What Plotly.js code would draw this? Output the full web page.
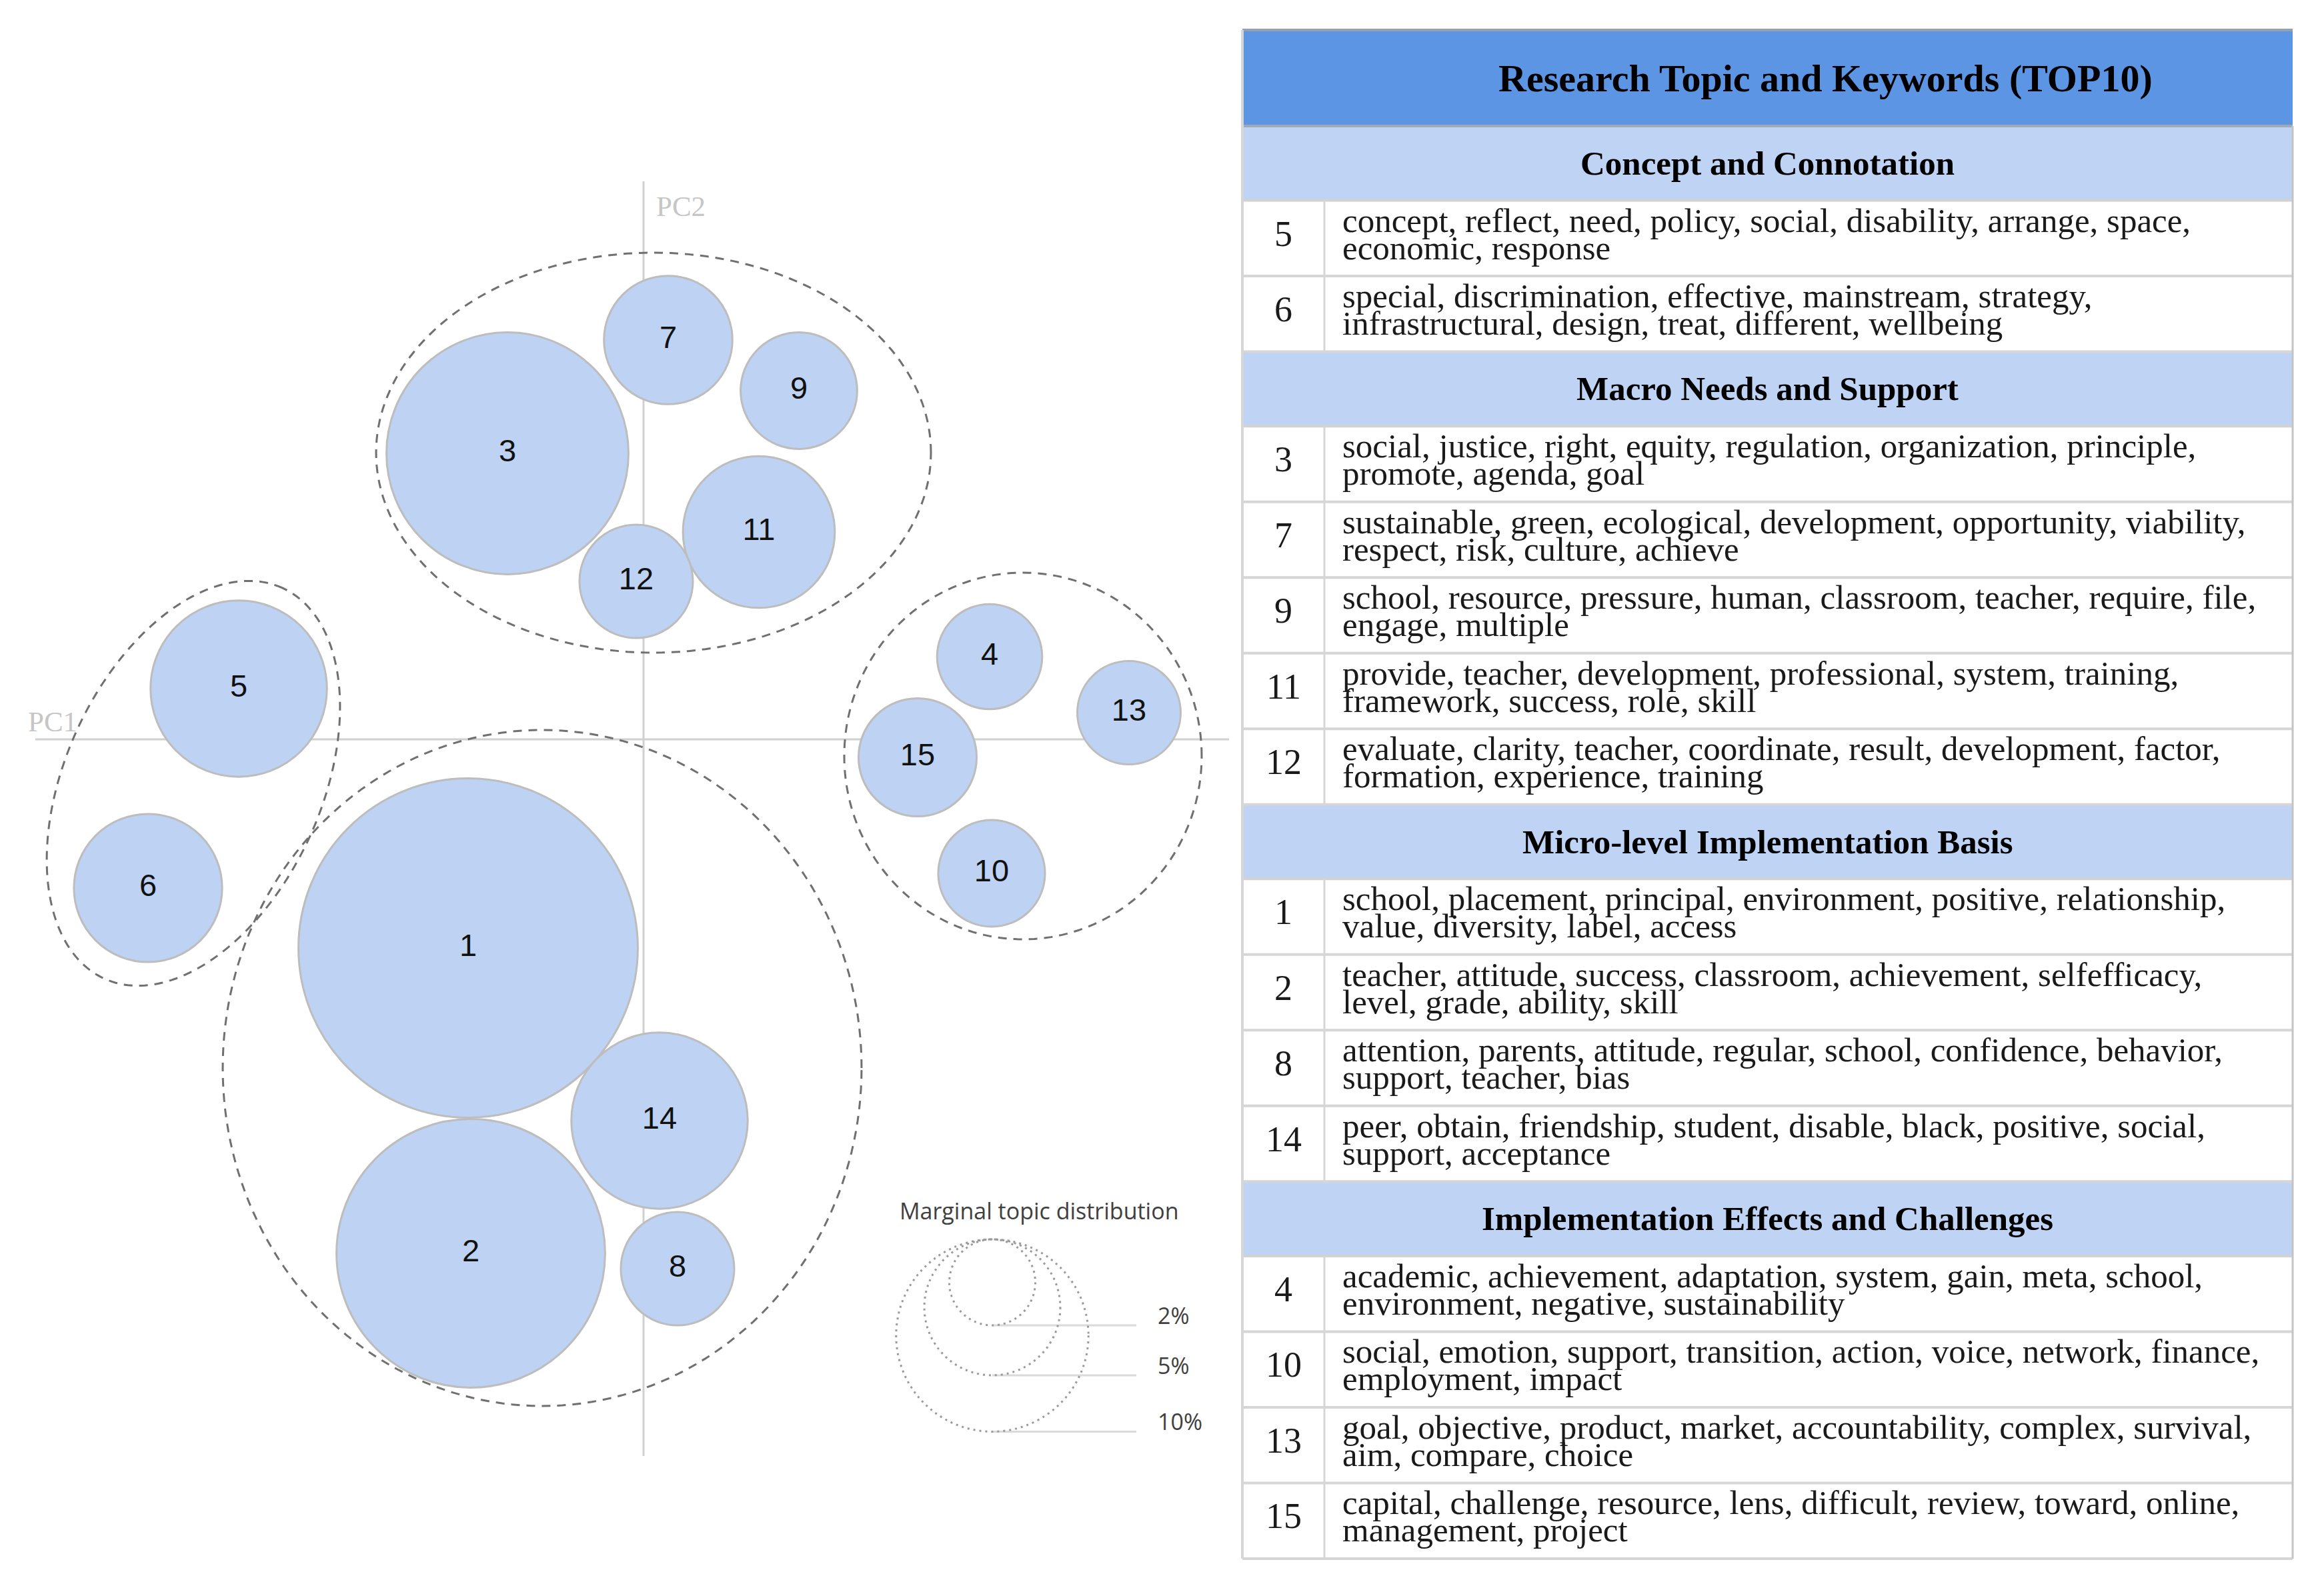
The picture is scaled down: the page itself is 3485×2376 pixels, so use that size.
<!DOCTYPE html>
<html>
<head>
<meta charset="utf-8">
<script src="https://cdn.plot.ly/plotly-3.0.1.min.js"></script>
<style>
  html, body { margin: 0; padding: 0; background: #fff; }
  #chart { width: 3485px; height: 2376px; }
</style>
</head>
<body>
<div id="chart"></div>
<script>
// ---- topic positions on the two principal components and their share (%) ----
var topicIds   = [1, 2, 3, 4, 5, 6, 7, 8, 9, 10, 11, 12, 13, 14, 15];
var pc1        = [-2.63, -2.59, -2.04, 5.19, -6.07, -7.43, 0.37, 0.51, 2.33, 5.22, 1.73, -0.11, 7.28, 0.24, 4.11];
var pc2        = [-3.13, -7.71, 4.29, 1.24, 0.76, -2.23, 5.99, -7.94, 5.23, -2.01, 3.11, 2.37, 0.40, -5.72, -0.27];
var topicShare = [31.5, 19.8, 16.1, 3.1, 8.6, 6.1, 4.6, 3.6, 3.8, 3.2, 6.4, 3.6, 3.0, 8.6, 3.9];

// size legend
var legendShares = [2, 5, 10];
var legendLabels = ['2%', '5%', '10%'];

// topic clusters (dashed ellipses): centre, semi-axes, rotation in degrees
var clusterCx    = [0.15, -1.52, 5.69, -6.75];
var clusterCy    = [4.30, -4.93, -0.25, -0.66];
var clusterA     = [4.16, 4.79, 2.68, 3.22];
var clusterB     = [3.00, 5.07, 2.75, 1.92];
var clusterAngle = [0, 0, 0, 65.5];

// table
var tableTitle    = 'Research Topic and Keywords (TOP10)';
var sectionNames  = ['Concept and Connotation', 'Macro Needs and Support',
                     'Micro-level Implementation Basis', 'Implementation Effects and Challenges'];
var sectionTopics = [[5, 6], [3, 7, 9, 11, 12], [1, 2, 8, 14], [4, 10, 13, 15]];
var keywords = [
  'school, placement, principal, environment, positive, relationship,\nvalue, diversity, label, access',
  'teacher, attitude, success, classroom, achievement, selfefficacy,\nlevel, grade, ability, skill',
  'social, justice, right, equity, regulation, organization, principle,\npromote, agenda, goal',
  'academic, achievement, adaptation, system, gain, meta, school,\nenvironment, negative, sustainability',
  'concept, reflect, need, policy, social, disability, arrange, space,\neconomic, response',
  'special, discrimination, effective, mainstream, strategy,\ninfrastructural, design, treat, different, wellbeing',
  'sustainable, green, ecological, development, opportunity, viability,\nrespect, risk, culture, achieve',
  'attention, parents, attitude, regular, school, confidence, behavior,\nsupport, teacher, bias',
  'school, resource, pressure, human, classroom, teacher, require, file,\nengage, multiple',
  'social, emotion, support, transition, action, voice, network, finance,\nemployment, impact',
  'provide, teacher, development, professional, system, training,\nframework, success, role, skill',
  'evaluate, clarity, teacher, coordinate, result, development, factor,\nformation, experience, training',
  'goal, objective, product, market, accountability, complex, survival,\naim, compare, choice',
  'peer, obtain, friendship, student, disable, black, positive, social,\nsupport, acceptance',
  'capital, challenge, resource, lens, difficult, review, toward, online,\nmanagement, project'
];

// ---- page geometry ----
var W = 3485, H = 2376;
var PX_PER_UNIT = 100;          // one PC unit on screen
var R_PER_SQRT = 0.456;         // circle radius (units) per sqrt(%)
function px(x) { return x / W; }
function py(y) { return 1 - y / H; }

var serif = 'Liberation Serif, Times New Roman, serif';
var sans = 'Liberation Sans, Arial, sans-serif';
var ui = 'Open Sans, Noto Sans, sans-serif';

var shapes = [];
var annotations = [];

function note(o) {
  // fixed anchors, plotly's 'auto' anchoring moves paper texts around
  o.showarrow = false;
  if (!o.xanchor) o.xanchor = 'center';
  if (!o.yanchor) o.yanchor = 'middle';
  annotations.push(o);
}

// PC axes
shapes.push({type: 'line', xref: 'x', yref: 'y domain', x0: 0, x1: 0, y0: 0, y1: 1,
             line: {color: '#d0d0d0', width: 3}, layer: 'below'});
shapes.push({type: 'line', xref: 'x domain', yref: 'y', x0: 0, x1: 1, y0: 0, y1: 0,
             line: {color: '#d0d0d0', width: 3}, layer: 'below'});
note({xref: 'x', yref: 'y', x: -8.86, y: 0.27, text: 'PC1',
      font: {family: serif, size: 43, color: '#c6c6c6'}});
note({xref: 'x', yref: 'y', x: 0.56, y: 8.0, text: 'PC2',
      font: {family: serif, size: 43, color: '#c6c6c6'}});

// cluster ellipses
function ellipsePath(cx, cy, a, b, angDeg) {
  var t = angDeg * Math.PI / 180, parts = [];
  for (var i = 0; i <= 200; i++) {
    var u = 2 * Math.PI * i / 200;
    var x = cx + a * Math.cos(u) * Math.cos(t) - b * Math.sin(u) * Math.sin(t);
    var y = cy + a * Math.cos(u) * Math.sin(t) + b * Math.sin(u) * Math.cos(t);
    parts.push((i ? 'L' : 'M') + x.toFixed(4) + ',' + y.toFixed(4));
  }
  return parts.join(' ') + ' Z';
}
for (var c = 0; c < clusterCx.length; c++) {
  shapes.push({type: 'path', xref: 'x', yref: 'y',
               path: ellipsePath(clusterCx[c], clusterCy[c], clusterA[c], clusterB[c], clusterAngle[c]),
               line: {color: '#707070', width: 3, dash: '13px,10px'}});
}

// size legend
var legCx = 5.23, legTop = -7.50, legLineEnd = 7.39;
note({xref: 'x', yref: 'y', x: 5.93, y: -7.07, text: 'Marginal topic distribution',
      font: {family: ui, size: 34, color: '#404040'}});
legendShares.forEach(function (s, i) {
  var r = R_PER_SQRT * Math.sqrt(s);
  var bottom = legTop - 2 * r;
  shapes.push({type: 'line', xref: 'x', yref: 'y', x0: legCx, x1: legLineEnd, y0: bottom, y1: bottom,
               line: {color: '#dadada', width: 3}});
  shapes.push({type: 'circle', xref: 'x', yref: 'y', x0: legCx - r, x1: legCx + r, y0: bottom, y1: legTop,
               line: {color: '#9a9a9a', width: 3, dash: '3px,6px'}});
  note({xref: 'x', yref: 'y', x: 7.69, y: bottom + 0.15, xanchor: 'left', text: legendLabels[i],
        font: {family: ui, size: 34, color: '#404040'}});
});

// topic bubbles
var topicTrace = {
  type: 'scatter', mode: 'markers+text', x: pc1, y: pc2,
  text: topicIds.map(String), textposition: 'middle center',
  textfont: {family: sans, size: 47, color: '#111111'},
  marker: {
    size: topicShare.map(function (s) { return 2 * R_PER_SQRT * Math.sqrt(s) * PX_PER_UNIT - 3; }),
    color: '#BED3F3', opacity: 1,
    line: {color: '#bdbdbd', width: 3}
  },
  hoverinfo: 'skip', cliponaxis: false
};

// ---- table ----
var tLeft = 1863, tRight = 3438, tNum = 1986, tTop = 45;
var titleH = 144, sectionH = 111.6, rowH = 113.5;
var lines = [];
function hline(y, color, w) {
  lines.push({type: 'line', xref: 'paper', yref: 'paper', x0: px(tLeft), x1: px(tRight), y0: py(y), y1: py(y),
              line: {color: color, width: w}});
}
function vline(x, y0, y1, color, w) {
  lines.push({type: 'line', xref: 'paper', yref: 'paper', x0: px(x), x1: px(x), y0: py(y0), y1: py(y1),
              line: {color: color, width: w}});
}

var yCur = tTop;
shapes.push({type: 'rect', xref: 'paper', yref: 'paper', x0: px(tLeft), x1: px(tRight),
             y0: py(yCur + titleH), y1: py(yCur), fillcolor: '#5C95E3', line: {width: 0}});
note({xref: 'paper', yref: 'paper', x: px(2737), y: py(yCur + titleH / 2 + 1),
      text: '<b>' + tableTitle + '</b>', font: {family: serif, size: 58, color: '#000'}});
hline(yCur, '#97a1ad', 4);
yCur += titleH;
hline(yCur, '#a0aab6', 4);

sectionNames.forEach(function (name, s) {
  shapes.push({type: 'rect', xref: 'paper', yref: 'paper', x0: px(tLeft), x1: px(tRight),
               y0: py(yCur + sectionH), y1: py(yCur), fillcolor: '#BFD4F4', line: {width: 0}});
  note({xref: 'paper', yref: 'paper', x: px((tLeft + tRight) / 2), y: py(yCur + sectionH / 2),
        text: '<b>' + name + '</b>', font: {family: serif, size: 51, color: '#000'}});
  yCur += sectionH;
  hline(yCur, '#d2d2d2', 4);
  sectionTopics[s].forEach(function (id) {
    note({xref: 'paper', yref: 'paper', x: px((tLeft + tNum) / 2), y: py(yCur + 50),
          text: String(id), font: {family: serif, size: 54, color: '#1a1a1a'}});
    var kl = keywords[id - 1].split('\n');
    var offs = [30, 71];
    kl.forEach(function (txt, k) {
      note({xref: 'paper', yref: 'paper', x: px(2011), y: py(yCur + offs[k]), xanchor: 'left',
            text: txt, font: {family: serif, size: 51, color: '#1a1a1a'}});
    });
    vline(tNum, yCur, yCur + rowH, '#d6d6d6', 3);
    yCur += rowH;
    hline(yCur, '#d6d6d6', 4);
  });
});
vline(tLeft, tTop, yCur, '#d6d6d6', 4);
vline(tRight, tTop + titleH, yCur, '#c4c4c4', 3);
shapes = shapes.concat(lines);

var layout = {
  width: W, height: H, autosize: false,
  margin: {l: 0, r: 0, t: 0, b: 0, pad: 0},
  paper_bgcolor: '#ffffff', plot_bgcolor: 'rgba(0,0,0,0)',
  showlegend: false,
  xaxis: {domain: [53 / W, 1843 / W], range: [-9.12, 8.78], showgrid: false, zeroline: false,
          showticklabels: false, ticks: '', showline: false, fixedrange: true},
  yaxis: {domain: [1 - 2184 / H, 1 - 272 / H], range: [-10.75, 8.37], showgrid: false, zeroline: false,
          showticklabels: false, ticks: '', showline: false, fixedrange: true},
  shapes: shapes,
  annotations: annotations
};

Plotly.newPlot('chart', [topicTrace], layout, {displayModeBar: false, staticPlot: true});
</script>
</body>
</html>
